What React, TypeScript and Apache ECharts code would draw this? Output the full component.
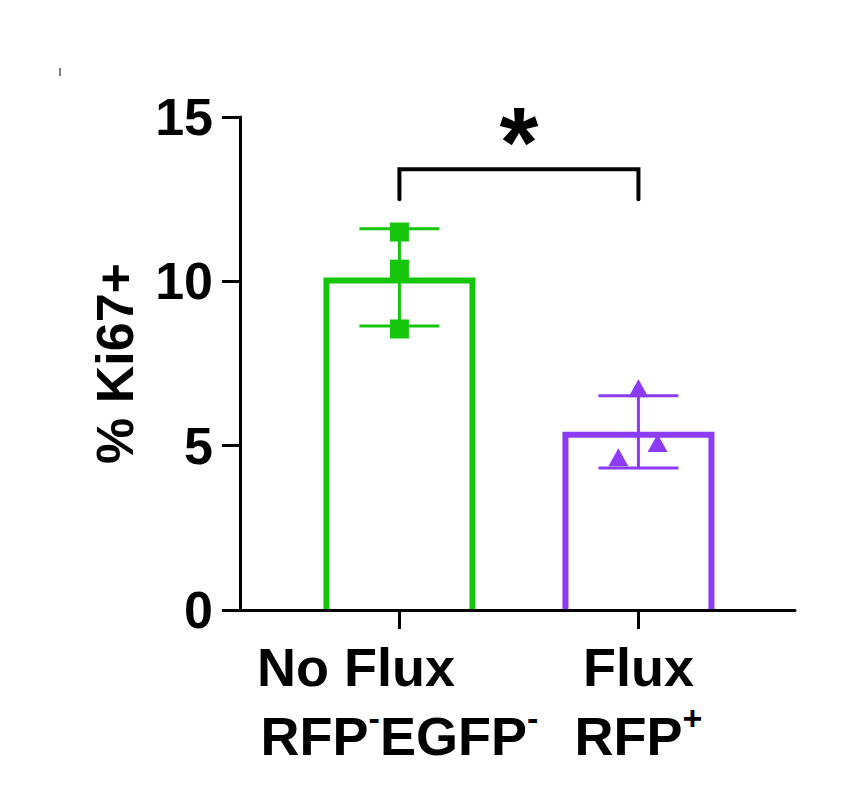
import * as echarts from 'echarts';
import { useEffect, useRef } from 'react';

// groups on the x axis (value axis: 0 and 1)
const groupX = [0, 1];
const groupLine1 = ['No Flux', 'Flux'];
const groupLine2 = [
  [['RFP', '-'], ['EGFP', '-']],
  [['RFP', '+']],
];
const groupColors = ['#16c60c', '#8c3cf5'];

// mean and SD of % Ki67+
const means = [10.12, 5.42];
const sds = [1.48, 1.1];

// individual replicates
const noFluxPoints: [number, number][] = [
  [0, 11.5],
  [0, 10.37],
  [0, 8.55],
];
const fluxPoints: [number, number][] = [
  [1, 6.75],
  [1.08, 5.08],
  [0.916, 4.65],
];

// significance bracket
const bracketX = [0, 1];
const bracketTop = 13.41;
const bracketLeg = 12.5;
const starY = 14.24;
const starText = '*';

const yTicks = { min: 0, max: 15, interval: 5 };
const yName = '% Ki67+';

const FONT = '"Liberation Sans", Arial, sans-serif';
const BAR_PX = 152;
const BAR_BORDER = 6;

function buildOption() {
  const labelFormatter = (value: number) => {
    const i = groupX.indexOf(Math.round(value));
    if (i < 0) return '';
    const first = i === 0 ? `{al|${groupLine1[i]}}` : `{a|${groupLine1[i]}}`;
    const second = groupLine2[i].map(([base, sup]) => `{a|${base}}{s|${sup}}`).join('');
    return `${first}\n${second}`;
  };

  return {
    animation: false,
    grid: { left: 240, right: 51, top: 117, bottom: 180 },
    graphic: [
      {
        type: 'line',
        shape: { x1: 60, y1: 68, x2: 60, y2: 76 },
        style: { stroke: '#000', lineWidth: 1 },
      },
    ],
    xAxis: {
      type: 'value',
      min: -0.667,
      max: 1.655,
      z: 10,
      splitLine: { show: false },
      axisLine: { show: true, onZero: false, lineStyle: { color: '#000', width: 3 } },
      axisTick: { show: true, customValues: groupX, length: 19, lineStyle: { color: '#000', width: 3 } },
      axisLabel: {
        customValues: groupX,
        margin: 22,
        formatter: labelFormatter,
        rich: {
          a: { fontSize: 54, fontWeight: 'bold', fontFamily: FONT, color: '#000', lineHeight: 69 },
          al: {
            fontSize: 54,
            fontWeight: 'bold',
            fontFamily: FONT,
            color: '#000',
            lineHeight: 69,
            width: 285,
            align: 'left',
          },
          s: {
            fontSize: 34,
            fontWeight: 'bold',
            fontFamily: FONT,
            color: '#000',
            lineHeight: 34,
            verticalAlign: 'top',
          },
        },
      },
    },
    yAxis: {
      type: 'value',
      ...yTicks,
      z: 10,
      name: yName,
      nameLocation: 'middle',
      nameGap: 99,
      nameTextStyle: { fontSize: 52, fontWeight: 'bold', fontFamily: FONT, color: '#000' },
      splitLine: { show: false },
      axisLine: { show: true, onZero: false, lineStyle: { color: '#000', width: 3 } },
      axisTick: { show: true, length: 18, lineStyle: { color: '#000', width: 3 } },
      axisLabel: { fontSize: 52, fontWeight: 'bold', fontFamily: FONT, color: '#000', margin: 27 },
    },
    series: [
      {
        // open bars, border drawn inside the bar outline
        type: 'custom',
        z: 3,
        data: groupX.map((x, i) => [x, means[i], i]),
        renderItem: (_params: any, api: any) => {
          const top = api.coord([api.value(0), api.value(1)]);
          const base = api.coord([api.value(0), 0]);
          const half = BAR_PX / 2 - BAR_BORDER / 2;
          const t = top[1] + BAR_BORDER / 2;
          return {
            type: 'polyline',
            shape: {
              points: [
                [top[0] - half, base[1]],
                [top[0] - half, t],
                [top[0] + half, t],
                [top[0] + half, base[1]],
              ],
            },
            style: { stroke: groupColors[api.value(2)], lineWidth: BAR_BORDER, fill: 'none', lineJoin: 'miter' },
          };
        },
      },
      {
        type: 'custom',
        z: 4,
        data: groupX.map((x, i) => [x, means[i], sds[i], i]),
        renderItem: (_params: any, api: any) => {
          const x = api.value(0);
          const m = api.value(1);
          const e = api.value(2);
          const color = groupColors[api.value(3)];
          const top = api.coord([x, m + e]);
          const bot = api.coord([x, m - e]);
          const half = 40;
          const style = { stroke: color, lineWidth: 3 };
          return {
            type: 'group',
            children: [
              { type: 'line', shape: { x1: top[0], y1: top[1], x2: bot[0], y2: bot[1] }, style },
              { type: 'line', shape: { x1: top[0] - half, y1: top[1], x2: top[0] + half, y2: top[1] }, style },
              { type: 'line', shape: { x1: bot[0] - half, y1: bot[1], x2: bot[0] + half, y2: bot[1] }, style },
            ],
          };
        },
      },
      {
        type: 'scatter',
        z: 5,
        symbol: 'rect',
        symbolSize: 19,
        itemStyle: { color: groupColors[0], opacity: 1 },
        data: noFluxPoints,
      },
      {
        type: 'scatter',
        z: 5,
        symbol: 'triangle',
        symbolSize: [20, 18],
        itemStyle: { color: groupColors[1], opacity: 1 },
        data: fluxPoints,
      },
      {
        type: 'custom',
        z: 6,
        clip: false,
        data: [[bracketX[0], bracketX[1], bracketTop, bracketLeg, starY]],
        renderItem: (_params: any, api: any) => {
          const a = api.coord([api.value(0), api.value(3)]);
          const b = api.coord([api.value(0), api.value(2)]);
          const c = api.coord([api.value(1), api.value(2)]);
          const d = api.coord([api.value(1), api.value(3)]);
          const s = api.coord([(api.value(0) + api.value(1)) / 2, api.value(4)]);
          return {
            type: 'group',
            children: [
              {
                type: 'polyline',
                shape: { points: [a, b, c, d] },
                style: { stroke: '#000', lineWidth: 4, fill: 'none', lineCap: 'round' },
              },
              {
                type: 'text',
                x: s[0],
                y: s[1],
                style: {
                  text: starText,
                  fontSize: 100,
                  fontWeight: 'bold',
                  fontFamily: FONT,
                  fill: '#000',
                  align: 'center',
                  verticalAlign: 'middle',
                },
              },
            ],
          };
        },
      },
    ],
  };
}

export default function App() {
  const ref = useRef<HTMLDivElement | null>(null);

  useEffect(() => {
    document.body.style.margin = '0';
    if (!ref.current) return;
    const chart = echarts.init(ref.current, undefined, { renderer: 'svg' });
    chart.setOption(buildOption());
    return () => chart.dispose();
  }, []);

  return <div ref={ref} style={{ width: 846, height: 790, background: '#fff' }} />;
}
